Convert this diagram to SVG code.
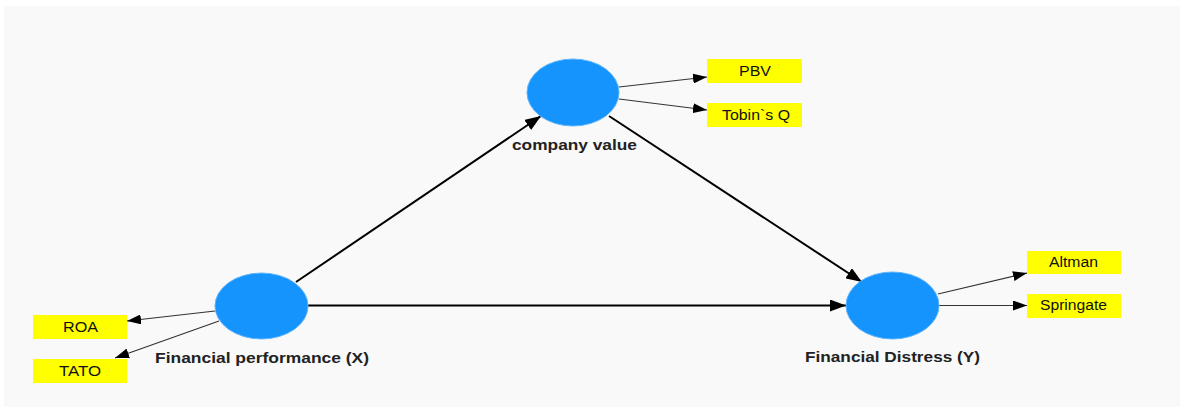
<svg xmlns="http://www.w3.org/2000/svg" width="1180" height="408" viewBox="0 0 1180 408">
<style>
.lv{fill:#1494fc;stroke:#5fb4fd;stroke-width:1}
.ind{fill:#ffff00}
.lbl{font-family:"Liberation Sans",Arial,sans-serif;font-size:15px;font-weight:bold;fill:#222;text-anchor:middle}
.it{font-family:"Liberation Sans",Arial,sans-serif;font-size:14px;fill:#111;text-anchor:middle}
.thick{stroke:#000;stroke-width:2;fill:none;marker-end:url(#ah)}
.thin{stroke:#333;stroke-width:1.1;fill:none;marker-end:url(#as)}
</style>
<defs>
<marker id="ah" markerUnits="userSpaceOnUse" markerWidth="16" markerHeight="12" refX="16" refY="6" orient="auto">
<path d="M0,0 L16,6 L0,12 z" fill="#000"/>
</marker>
<marker id="as" markerUnits="userSpaceOnUse" markerWidth="14" markerHeight="10" refX="14" refY="5" orient="auto">
<path d="M0,0 L14,5 L0,10 z" fill="#000"/>
</marker>
</defs>
<rect x="0" y="0" width="1180" height="408" fill="#fff"/>
<rect x="4" y="6" width="1176" height="401" fill="#f9f9f9"/>
<g id="connectors">
<line class="thick" x1="296" y1="282" x2="541" y2="116"/>
<line class="thick" x1="609" y1="116" x2="862" y2="282"/>
<line class="thick" x1="308" y1="305.5" x2="846" y2="305.5"/>
<line class="thin" x1="619" y1="87" x2="707" y2="77"/>
<line class="thin" x1="619" y1="99" x2="707" y2="110"/>
<line class="thin" x1="215" y1="311" x2="127" y2="321"/>
<line class="thin" x1="219" y1="321" x2="115" y2="358"/>
<line class="thin" x1="938" y1="294" x2="1027" y2="273"/>
<line class="thin" x1="939" y1="305.5" x2="1027" y2="305.5"/>
</g>
<g id="company-value">
<ellipse class="lv" cx="573" cy="92.5" rx="46" ry="33.5"/>
<text class="lbl" x="574.5" y="150" textLength="125" lengthAdjust="spacingAndGlyphs">company value</text>
</g>
<g id="financial-performance">
<ellipse class="lv" cx="261.5" cy="306" rx="46.5" ry="33"/>
<text class="lbl" x="262" y="362.5" textLength="214" lengthAdjust="spacingAndGlyphs">Financial performance (X)</text>
</g>
<g id="financial-distress">
<ellipse class="lv" cx="892.5" cy="305.5" rx="46.5" ry="33.5"/>
<text class="lbl" x="892.5" y="361.5" textLength="175" lengthAdjust="spacingAndGlyphs">Financial Distress (Y)</text>
</g>
<g id="pbv">
<rect class="ind" x="707" y="59" width="95" height="24"/>
<text class="it" x="755" y="76" textLength="32" lengthAdjust="spacingAndGlyphs">PBV</text>
</g>
<g id="tobins-q">
<rect class="ind" x="707" y="103" width="95" height="24"/>
<text class="it" x="756" y="119.5" textLength="68" lengthAdjust="spacingAndGlyphs">Tobin`s Q</text>
</g>
<g id="roa">
<rect class="ind" x="33" y="315" width="94" height="24"/>
<text class="it" x="80.5" y="332" textLength="35" lengthAdjust="spacingAndGlyphs">ROA</text>
</g>
<g id="tato">
<rect class="ind" x="33" y="359" width="94" height="24"/>
<text class="it" x="80" y="375.5" textLength="42" lengthAdjust="spacingAndGlyphs">TATO</text>
</g>
<g id="altman">
<rect class="ind" x="1027" y="251" width="94" height="23"/>
<text class="it" x="1073.5" y="267" textLength="49" lengthAdjust="spacingAndGlyphs">Altman</text>
</g>
<g id="springate">
<rect class="ind" x="1027" y="294" width="94" height="24"/>
<text class="it" x="1073.5" y="309.5" textLength="67" lengthAdjust="spacingAndGlyphs">Springate</text>
</g>
</svg>
